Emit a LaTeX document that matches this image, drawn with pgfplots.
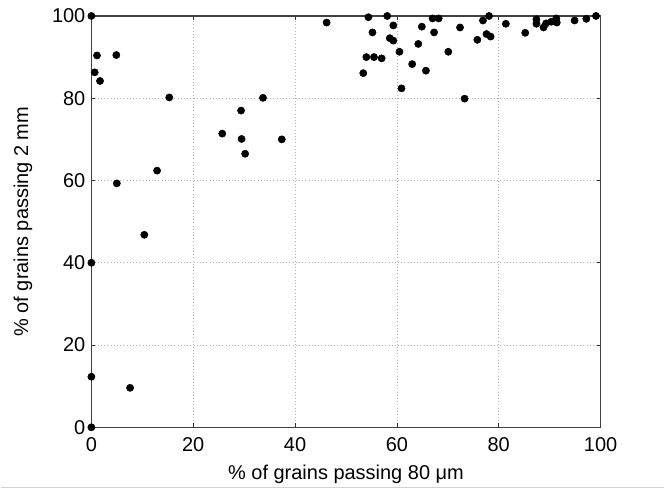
\documentclass[border=0pt]{standalone}
\usepackage{fontspec}
\setmainfont{Liberation Sans}
\usepackage{pgfplots}
\pgfplotsset{compat=1.18}
\usetikzlibrary{calc}

\begin{document}
\begin{tikzpicture}
\begin{axis}[
    name=ax,
    scale only axis,
    width=382.5pt,
    height=309pt,
    xmin=0, xmax=100,
    ymin=0, ymax=100,
    xtick={0,20,...,100},
    ytick={0,20,...,100},
    tick align=inside,
    major tick length=3pt,
    tick style={black!80, line width=0.6pt},
    axis line style={black!75, line width=0.8pt},
    grid=major,
    grid style={dotted, gray!60, line width=0.5pt},
    font=\fontsize{15}{17}\selectfont,
    /pgf/number format/assume math mode=true,
    xticklabel style={yshift=-4pt},
    yticklabel style={xshift=-1pt},
    xlabel={\% of grains passing 80 μm},
    ylabel={\% of grains passing 2 mm},
    xlabel style={yshift=-3pt},
    ylabel style={yshift=8pt},
    clip=false,
]
\addplot[only marks, mark=*, mark size=2.7pt, black] coordinates {
    (0,100) (1.1,90.4) (4.9,90.5) (0.65,86.3) (1.7,84.2)
    (15.3,80.2) (29.4,77.0) (25.7,71.4) (29.5,70.1) (30.2,66.5)
    (12.9,62.4) (5.0,59.3) (10.4,46.8) (0,40.0) (0,12.3) (7.6,9.6) (0,0)
    (33.7,80.1) (37.4,70.0) (46.2,98.4)
    (54.4,99.7) (58.1,100) (59.3,97.7) (55.2,96.0) (58.6,94.6) (59.3,94.0)
    (60.5,91.3) (54.0,90.0) (55.5,90.0) (57.0,89.7) (53.4,86.1) (60.9,82.4)
    (64.9,97.4) (67.0,99.4) (68.2,99.4) (67.3,96.0) (64.2,93.2) (70.1,91.3)
    (63.0,88.3) (65.7,86.7)
    (72.4,97.2) (73.3,79.9) (76.9,98.9) (78.1,100) (75.8,94.2) (77.6,95.6)
    (78.4,95.0) (81.4,98.1) (85.2,95.9) (87.4,99.2) (87.4,98.1) (88.8,97.2)
    (89.3,98.2) (90.3,98.6) (91.3,99.4) (91.4,98.4) (94.9,98.9) (97.2,99.3)
    (99.1,100)
};
\end{axis}
\path (ax.south west) ++(-68.25pt,-48pt) (ax.north east) ++(48pt,12pt);
\draw[gray!35, line width=0.8pt] ($(ax.south west)+(-68.25pt,-45pt)$) -- ($(ax.south east)+(48pt,-45pt)$);
\end{tikzpicture}
\end{document}
